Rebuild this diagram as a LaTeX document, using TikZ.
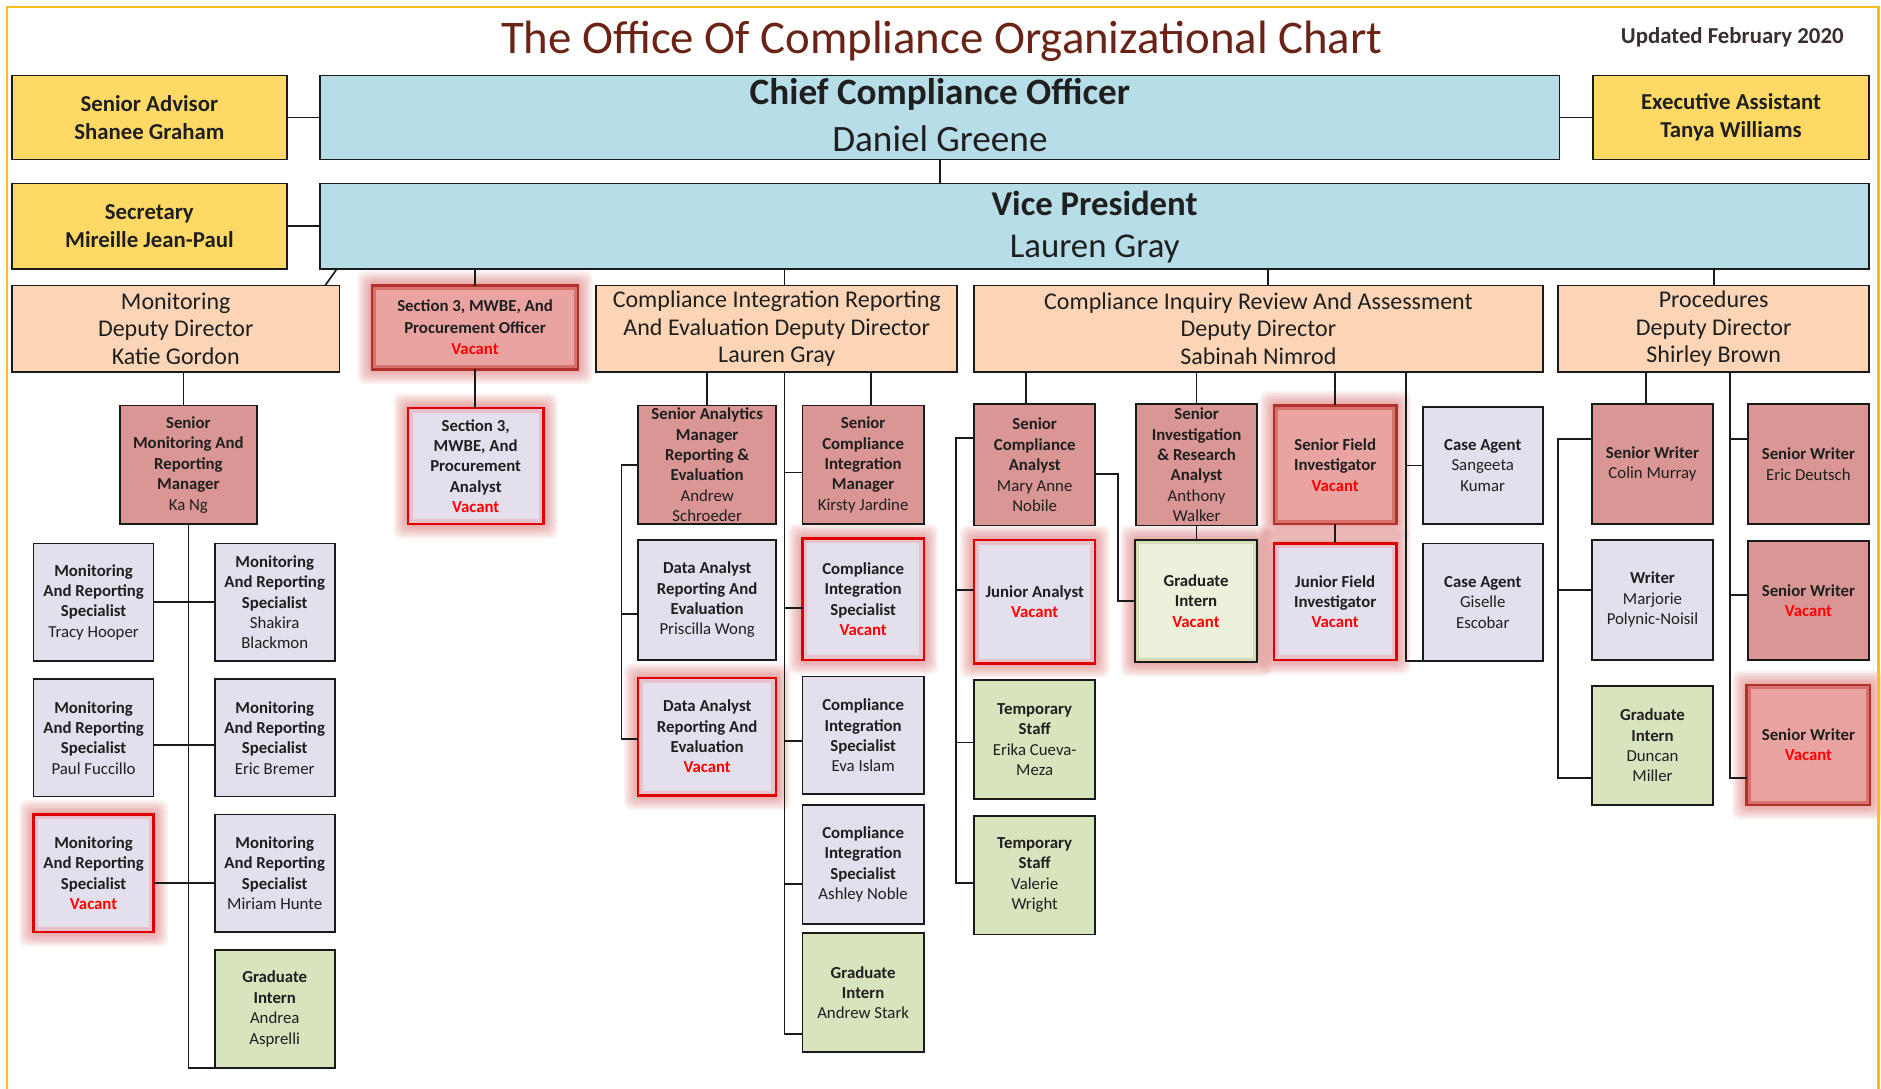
\documentclass[tikz,border=0pt]{standalone}
\usepackage{fontspec}
\setmainfont{Carlito}
\pgfdeclarelayer{bgw}
\pgfdeclarelayer{bg}
\pgfsetlayers{bgw,bg,main}
\definecolor{yelc}{HTML}{FFD966}
\definecolor{bluc}{HTML}{B7DDE8}
\definecolor{pchc}{HTML}{FBD5B5}
\definecolor{senc}{HTML}{D99694}
\definecolor{senvc}{HTML}{E9A3A0}
\definecolor{senin}{HTML}{D6716D}
\definecolor{lavc}{HTML}{E3DFEC}
\definecolor{lavin}{HTML}{E8C2CB}
\definecolor{grnc}{HTML}{D7E4BD}
\definecolor{grnvc}{HTML}{EBF1DA}
\definecolor{grnin}{HTML}{D3DCB4}
\definecolor{vred}{HTML}{E00000}
\definecolor{vdark}{HTML}{B0302C}
\definecolor{glowc}{HTML}{D04040}
\definecolor{txtc}{HTML}{1F1F1F}
\definecolor{linec}{HTML}{1A1A1A}
\definecolor{titlec}{HTML}{6B2316}
\definecolor{updc}{HTML}{3B2E2E}
\definecolor{vacc}{HTML}{FF0000}
\definecolor{brd}{HTML}{F7BE1E}
\newcommand\vac{\textcolor{vacc}{Vacant}}
\newcommand\nm[1]{{\mdseries #1}}
\newcommand\bx[8]{%
  \node[#2,minimum width={(#6)-(#4)},minimum height={(#7)-(#5)},anchor=north west] (#1) at (#4,#5) {};
  \node[#3] (#1t) at (#1.center) {#8};}
\newcommand\gbx[8]{%
  \begin{pgfonlayer}{bg}
  \foreach \d in {1,...,7}{\fill[glowc,opacity=0.08,rounded corners=6pt] ({#4-1.7*\d},{#5-1.7*\d}) rectangle ({#6+1.7*\d},{#7+1.7*\d});}
  \end{pgfonlayer}
  \bx{#1}{#2}{#3}{#4}{#5}{#6}{#7}{#8}}
\begin{document}
\begin{tikzpicture}[x=1pt,y=-1pt,
  box/.style={draw=linec,line width=1.4pt,inner sep=0pt,outer sep=0pt},
  yel/.style={box,fill=yelc},
  blu/.style={box,fill=bluc},
  pch/.style={box,fill=pchc},
  sen/.style={box,fill=senc},
  lav/.style={box,fill=lavc},
  grn/.style={box,fill=grnc},
  lavv/.style={box,fill=lavc,draw=vred,line width=2pt,
    path picture={\draw[lavin,line width=8pt] (path picture bounding box.south west) rectangle (path picture bounding box.north east);}},
  senv/.style={box,fill=senvc,draw=vdark,line width=2pt,
    path picture={\draw[senin,line width=7pt] (path picture bounding box.south west) rectangle (path picture bounding box.north east);}},
  grnv/.style={box,fill=grnvc,draw=linec,line width=2pt,
    path picture={\draw[grnin,line width=7pt] (path picture bounding box.south west) rectangle (path picture bounding box.north east);}},
  tbase/.style={align=center,inner sep=0pt,text=txtc},
  tyel/.style={tbase,font=\fontsize{19}{23}\selectfont\bfseries},
  tdd/.style={tbase,font=\fontsize{20}{23}\selectfont},
  txt/.style={tbase,font=\fontsize{14}{17}\selectfont\bfseries},
  txtb/.style={tbase,font=\fontsize{14}{18}\selectfont\bfseries},
  link/.style={draw=linec,line width=1.4pt}]
\useasboundingbox (0,0) rectangle (1568,907);
\begin{pgfonlayer}{bgw}
\fill[white] (0,0) rectangle (1568,907);
\end{pgfonlayer}
\draw[brd,line width=2pt] (5.6,912) -- (5.6,5.6) -- (1566,5.6) -- (1566,912);
% title
\node[font=\fontsize{39}{44}\selectfont,text=titlec,anchor=base,inner sep=0pt] (title) at (785,44.5) {The Office Of Compliance Organizational Chart};
\node[font=\fontsize{19}{22}\selectfont\bfseries,text=updc,anchor=base,inner sep=0pt] (upd) at (1444,36) {Updated February 2020};
% top
\bx{SA}{yel}{tyel}{10}{63}{239}{133}{Senior Advisor\\Shanee Graham}
\node[blu,minimum width=1033,minimum height=70,anchor=north west] (CCO) at (267,63) {};
\node[tbase,font=\fontsize{31}{37}\selectfont\bfseries,anchor=base] (ccoA) at (783.5,87.5) {Chief Compliance Officer};
\node[tbase,font=\fontsize{31}{37}\selectfont,anchor=base] (ccoB) at (783.5,126.4) {Daniel Greene};
\bx{EA}{yel}{tyel}{1328}{63}{1558}{133}{Executive Assistant\\Tanya Williams}
\bx{SEC}{yel}{tyel}{10}{153}{239}{224}{Secretary\\Mireille Jean-Paul}
\node[blu,minimum width=1291,minimum height=71,anchor=north west] (VP) at (267,153) {};
\node[tbase,font=\fontsize{29}{35}\selectfont\bfseries,anchor=base] (vpA) at (912.5,180) {Vice President};
\node[tbase,font=\fontsize{29}{35}\selectfont,anchor=base] (vpB) at (912.5,214.5) {Lauren Gray};
% deputy directors
\bx{MON}{pch}{tdd}{10}{238}{283}{310}{Monitoring\\Deputy Director\\Katie Gordon}
\gbx{S3O}{senv}{txtb}{310}{238}{482}{308}{Section 3, MWBE, And\\Procurement Officer\\\vac}
\bx{CIRE}{pch}{tdd}{497}{238}{798}{310}{Compliance Integration Reporting\\And Evaluation Deputy Director\\Lauren Gray}
\bx{CIRA}{pch}{tdd}{812}{238}{1286}{310}{Compliance Inquiry Review And Assessment\\Deputy Director\\Sabinah Nimrod}
\bx{PROC}{pch}{tdd}{1299}{238}{1558}{310}{Procedures\\Deputy Director\\Shirley Brown}
% monitoring
\bx{SMRM}{sen}{txt}{100}{338}{214}{437}{Senior\\Monitoring And\\Reporting\\Manager\\\nm{Ka Ng}}
\bx{MS1}{lav}{txt}{28}{453}{128}{551}{Monitoring\\And Reporting\\Specialist\\\nm{Tracy Hooper}}
\bx{MS2}{lav}{txt}{179}{453}{279}{551}{Monitoring\\And Reporting\\Specialist\\\nm{Shakira}\\\nm{Blackmon}}
\bx{MS3}{lav}{txt}{28}{566}{128}{664}{Monitoring\\And Reporting\\Specialist\\\nm{Paul Fuccillo}}
\bx{MS4}{lav}{txt}{179}{566}{279}{664}{Monitoring\\And Reporting\\Specialist\\\nm{Eric Bremer}}
\gbx{MS5}{lavv}{txt}{28}{679}{128}{777}{Monitoring\\And Reporting\\Specialist\\\vac}
\bx{MS6}{lav}{txt}{179}{679}{279}{777}{Monitoring\\And Reporting\\Specialist\\\nm{Miriam Hunte}}
\bx{MGI}{grn}{txt}{179}{792}{279}{890}{Graduate\\Intern\\\nm{Andrea}\\\nm{Asprelli}}
% section 3
\gbx{S3A}{lavv}{txt}{340}{340}{453}{437}{Section 3,\\MWBE, And\\Procurement\\Analyst\\\vac}
% CIRE
\bx{SAM}{sen}{txt}{532}{338}{647}{437}{Senior Analytics\\Manager\\Reporting \&\\Evaluation\\\nm{Andrew}\\\nm{Schroeder}}
\bx{DA1}{lav}{txt}{532}{450}{647}{550}{Data Analyst\\Reporting And\\Evaluation\\\nm{Priscilla Wong}}
\gbx{DA2}{lavv}{txt}{532}{565}{647}{663}{Data Analyst\\Reporting And\\Evaluation\\\vac}
\bx{SCIM}{sen}{txt}{669}{338}{770}{437}{Senior\\Compliance\\Integration\\Manager\\\nm{Kirsty Jardine}}
\gbx{CIS1}{lavv}{txt}{669}{449}{770}{550}{Compliance\\Integration\\Specialist\\\vac}
\bx{CIS2}{lav}{txt}{669}{564}{770}{662}{Compliance\\Integration\\Specialist\\\nm{Eva Islam}}
\bx{CIS3}{lav}{txt}{669}{671}{770}{770}{Compliance\\Integration\\Specialist\\\nm{Ashley Noble}}
\bx{CGI}{grn}{txt}{669}{778}{770}{877}{Graduate\\Intern\\\nm{Andrew Stark}}
% CIRA
\bx{SCA}{sen}{txt}{812}{337}{913}{438}{Senior\\Compliance\\Analyst\\\nm{Mary Anne}\\\nm{Nobile}}
\gbx{JA}{lavv}{txt}{812}{450}{913}{553}{Junior Analyst\\\vac}
\bx{TS1}{grn}{txt}{812}{567}{913}{666}{Temporary\\Staff\\\nm{Erika Cueva-}\\\nm{Meza}}
\bx{TS2}{grn}{txt}{812}{680}{913}{779}{Temporary\\Staff\\\nm{Valerie}\\\nm{Wright}}
\bx{SIRA}{sen}{txt}{947}{337}{1048}{438}{Senior\\Investigation\\\& Research\\Analyst\\\nm{Anthony}\\\nm{Walker}}
\gbx{GIV}{grnv}{txt}{946}{450}{1048}{552}{Graduate\\Intern\\\vac}
\gbx{SFI}{senv}{txt}{1062}{338}{1164}{437}{Senior Field\\Investigator\\\vac}
\gbx{JFI}{lavv}{txt}{1062}{453}{1164}{550}{Junior Field\\Investigator\\\vac}
\bx{CA1}{lav}{txt}{1186}{339}{1286}{437}{Case Agent\\\nm{Sangeeta}\\\nm{Kumar}}
\bx{CA2}{lav}{txt}{1186}{453}{1286}{551}{Case Agent\\\nm{Giselle}\\\nm{Escobar}}
% procedures
\bx{SW1}{sen}{txt}{1327}{337}{1428}{437}{Senior Writer\\\nm{Colin Murray}}
\bx{WR}{lav}{txt}{1327}{450}{1428}{550}{Writer\\\nm{Marjorie}\\\nm{Polynic-Noisil}}
\bx{PGI}{grn}{txt}{1327}{572}{1428}{671}{Graduate\\Intern\\\nm{Duncan}\\\nm{Miller}}
\bx{SW2}{sen}{txt}{1457}{337}{1558}{437}{Senior Writer\\\nm{Eric Deutsch}}
\bx{SW3}{sen}{txt}{1457}{451}{1558}{550}{Senior Writer\\\vac}
\gbx{SW4}{senv}{txt}{1456}{571}{1559}{671}{Senior Writer\\\vac}
% ---------- connectors ----------
\draw[link] (SA.east) -- (CCO.west);
\draw[link] (CCO.east) -- (EA.west);
\draw[link] (SEC.east) -- (VP.west);
\draw[link] (CCO.south) -- (CCO.south |- VP.north);
\coordinate (vpM) at ([xshift=14pt]VP.south west);
\coordinate (monT) at ([xshift=261pt]MON.north west);
\draw[link] (vpM) -- (monT);
\draw[link] (S3O.north) -- (S3O.north |- VP.south);
\coordinate (ciT) at ([xshift=6.5pt]CIRE.north);
\draw[link] (ciT) -- (ciT |- VP.south);
\coordinate (caT) at ([xshift=8pt]CIRA.north);
\draw[link] (caT) -- (caT |- VP.south);
\draw[link] (PROC.north) -- (PROC.north |- VP.south);
% monitoring
\coordinate (smT) at ([xshift=-4pt]SMRM.north);
\draw[link] (smT) -- (smT |- MON.south);
\draw[link] (SMRM.south) |- (MGI.south west);
\draw[link] (MS1.east) -- (MS2.west);
\coordinate (m3) at ([yshift=-6pt]MS3.east);
\draw[link] (m3) -- (m3 -| MS4.west);
\coordinate (m5) at ([yshift=-8pt]MS5.east);
\draw[link] (m5) -- (m5 -| MS6.west);
% section 3
\draw[link] (S3O.south) -- (S3O.south |- S3A.north);
% CIRE
\draw[link] (SAM.north) -- (SAM.north |- CIRE.south);
\coordinate (scT) at ([xshift=6.5pt]SCIM.north);
\draw[link] (scT) -- (scT |- CIRE.south);
\coordinate (ciB) at ([xshift=6.5pt]CIRE.south);
\coordinate (cgJ) at ([yshift=15pt]CGI.south west);
\draw[link] (ciB) |- (cgJ);
\foreach \n/\s in {SCIM/-6.5,CIS1/-7.5,CIS2/-4.5,CIS3/-16.5}{
  \coordinate (hj) at ([yshift=\s pt]\n.west);
  \draw[link] (hj) -- (hj -| ciB);}
\coordinate (ciL) at (518,0);
\coordinate (d1) at ([yshift=-12pt]DA1.west);
\coordinate (d2) at ([yshift=-2pt]DA2.west);
\draw[link] (SAM.west) -- (SAM.west -| ciL) -- (ciL |- d2) -- (d2);
\draw[link] (ciL |- d1) -- (d1);
% CIRA
\coordinate (scaT) at ([xshift=-7.5pt]SCA.north);
\draw[link] (scaT) -- (scaT |- CIRA.south);
\coordinate (caL) at (797,0);
\coordinate (sj) at ([yshift=22.5pt]SCA.west);
\coordinate (jj) at ([yshift=9.5pt]JA.west);
\coordinate (t1j) at ([yshift=-2.5pt]TS1.west);
\coordinate (t2j) at ([yshift=-6.5pt]TS2.west);
\draw[link] (sj) -- (sj -| caL) -- (caL |- t2j) -- (t2j);
\draw[link] (caL |- jj) -- (jj);
\draw[link] (caL |- t1j) -- (t1j);
\draw[link] (SIRA.north) -- (SIRA.north |- CIRA.south);
\draw[link] (SIRA.south) -- (SIRA.south |- GIV.north);
\coordinate (sr) at ([yshift=-7.5pt]SCA.east);
\coordinate (gb) at (932,0);
\draw[link] (sr) -- (sr -| gb) -- (gb |- GIV.west) -- (GIV.west);
\draw[link] (SFI.north) -- (SFI.north |- CIRA.south);
\draw[link] (SFI.south) -- (JFI.north);
\coordinate (cax) at (1172,0);
\draw[link] (cax |- CIRA.south) |- (CA2.south west);
\draw[link] (CA1.west) -- (CA1.west -| cax);
% procedures
\coordinate (pT) at ([xshift=-5.5pt]SW1.north);
\draw[link] (pT) -- (pT |- PROC.south);
\coordinate (pl) at (1299,0);
\coordinate (w1) at ([yshift=21pt]SW1.west);
\coordinate (w2) at ([yshift=8pt]WR.west);
\coordinate (w3) at ([yshift=-27pt]PGI.west);
\draw[link] (w1) -- (w1 -| pl) -- (pl |- w3) -- (w3);
\draw[link] (pl |- w2) -- (w2);
\coordinate (pr) at (1442,0);
\coordinate (v1) at ([yshift=21pt]SW2.west);
\coordinate (v2) at ([yshift=4.5pt]SW3.west);
\coordinate (v3) at ([yshift=-27.5pt]SW4.west);
\draw[link] (pr |- PROC.south) |- (v3);
\draw[link] (pr |- v1) -- (v1);
\draw[link] (pr |- v2) -- (v2);
\end{tikzpicture}
\end{document}
